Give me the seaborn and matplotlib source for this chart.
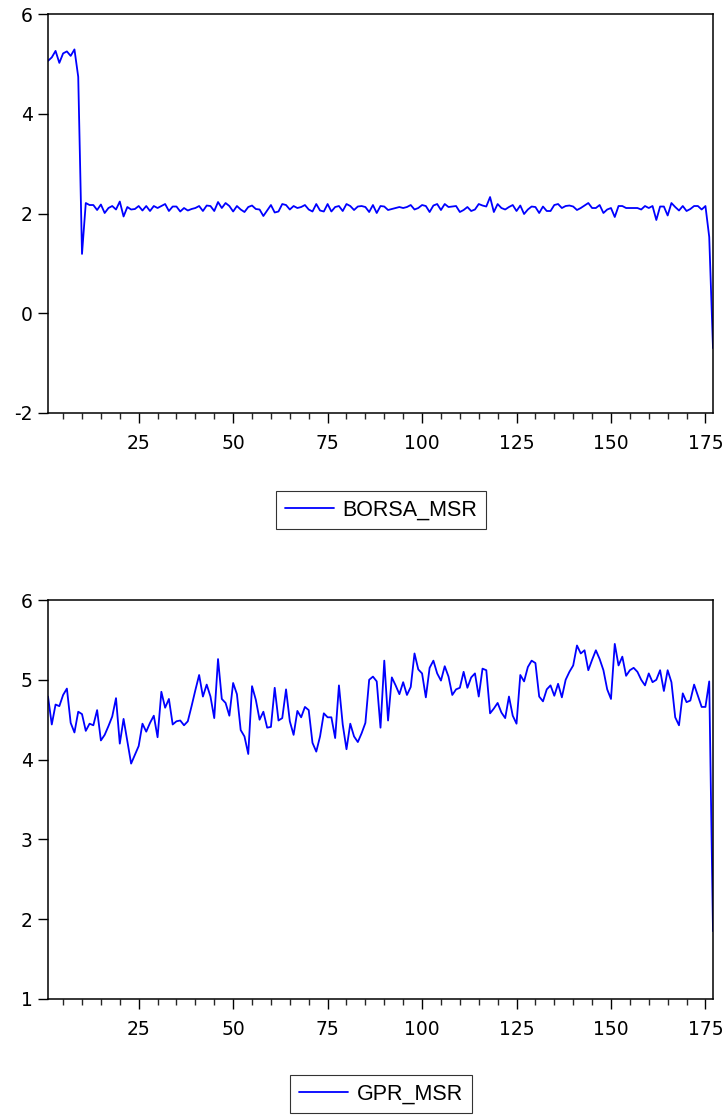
import numpy as np
import pandas as pd
import matplotlib
matplotlib.use("Agg")
import matplotlib.pyplot as plt
import seaborn as sns
from matplotlib.ticker import MultipleLocator

# values (obs 1..177)
borsa_msr = [
    5.06, 5.13, 5.26, 5.02, 5.21, 5.25, 5.16, 5.29, 4.74, 1.19,
    2.21, 2.17, 2.17, 2.07, 2.18, 2.01, 2.11, 2.15, 2.08, 2.24,
    1.94, 2.13, 2.08, 2.09, 2.15, 2.06, 2.15, 2.05, 2.15, 2.11,
    2.15, 2.19, 2.05, 2.14, 2.14, 2.04, 2.11, 2.06, 2.09, 2.11,
    2.15, 2.05, 2.16, 2.15, 2.05, 2.23, 2.11, 2.21, 2.15, 2.04,
    2.15, 2.08, 2.03, 2.13, 2.16, 2.09, 2.08, 1.95, 2.06, 2.17,
    2.02, 2.04, 2.19, 2.17, 2.08, 2.15, 2.11, 2.13, 2.17, 2.08,
    2.04, 2.19, 2.06, 2.04, 2.19, 2.04, 2.13, 2.15, 2.05, 2.19,
    2.15, 2.07, 2.14, 2.15, 2.13, 2.03, 2.17, 2.01, 2.15, 2.14,
    2.07, 2.09, 2.11, 2.13, 2.11, 2.13, 2.17, 2.08, 2.11, 2.17,
    2.15, 2.03, 2.16, 2.19, 2.07, 2.19, 2.13, 2.14, 2.15, 2.03,
    2.07, 2.13, 2.05, 2.08, 2.19, 2.16, 2.14, 2.33, 2.03, 2.19,
    2.11, 2.08, 2.13, 2.17, 2.05, 2.16, 1.99, 2.08, 2.14, 2.13,
    2.01, 2.14, 2.05, 2.05, 2.17, 2.19, 2.11, 2.15, 2.16, 2.14,
    2.07, 2.11, 2.16, 2.21, 2.11, 2.11, 2.17, 2.01, 2.08, 2.11,
    1.93, 2.15, 2.15, 2.11, 2.11, 2.11, 2.11, 2.08, 2.15, 2.11,
    2.15, 1.87, 2.14, 2.14, 1.96, 2.21, 2.13, 2.06, 2.15, 2.05,
    2.09, 2.15, 2.15, 2.08, 2.15, 1.53, -0.70,
]

gpr_msr = [
    4.79, 4.44, 4.69, 4.67, 4.81, 4.89, 4.46, 4.34, 4.60, 4.57,
    4.36, 4.45, 4.43, 4.62, 4.24, 4.31, 4.42, 4.54, 4.77, 4.20,
    4.51, 4.23, 3.95, 4.06, 4.17, 4.45, 4.35, 4.46, 4.55, 4.28,
    4.85, 4.65, 4.76, 4.44, 4.48, 4.49, 4.43, 4.48, 4.67, 4.87,
    5.06, 4.79, 4.94, 4.79, 4.52, 5.26, 4.76, 4.71, 4.55, 4.96,
    4.82, 4.37, 4.29, 4.07, 4.92, 4.75, 4.50, 4.60, 4.40, 4.41,
    4.90, 4.49, 4.52, 4.88, 4.48, 4.31, 4.61, 4.53, 4.66, 4.62,
    4.21, 4.10, 4.29, 4.58, 4.53, 4.53, 4.27, 4.93, 4.44, 4.13,
    4.45, 4.29, 4.22, 4.33, 4.46, 5.00, 5.04, 4.98, 4.40, 5.24,
    4.49, 5.03, 4.93, 4.82, 4.97, 4.81, 4.91, 5.33, 5.13, 5.08,
    4.78, 5.15, 5.24, 5.08, 4.99, 5.17, 5.04, 4.81, 4.88, 4.90,
    5.10, 4.90, 5.03, 5.08, 4.79, 5.14, 5.12, 4.58, 4.64, 4.71,
    4.59, 4.52, 4.79, 4.55, 4.45, 5.06, 4.98, 5.16, 5.24, 5.21,
    4.79, 4.73, 4.88, 4.93, 4.80, 4.95, 4.78, 5.00, 5.10, 5.18,
    5.43, 5.33, 5.37, 5.12, 5.25, 5.37, 5.26, 5.12, 4.88, 4.76,
    5.45, 5.18, 5.29, 5.05, 5.12, 5.15, 5.10, 5.00, 4.93, 5.08,
    4.97, 5.00, 5.12, 4.86, 5.12, 4.97, 4.53, 4.43, 4.83, 4.72,
    4.74, 4.94, 4.80, 4.66, 4.66, 4.98, 1.85,
]

obs = np.arange(1, len(borsa_msr) + 1)
df = pd.DataFrame({"obs": obs, "BORSA_MSR": borsa_msr, "GPR_MSR": gpr_msr})

sns.set_style("white")
plt.rcParams["font.family"] = ["Liberation Sans", "DejaVu Sans"]
plt.rcParams["axes.unicode_minus"] = False
plt.rcParams["text.color"] = "black"

fig = plt.figure(figsize=(7.24, 11.15), dpi=100)
W, H = 724, 1115


def add_panel(top_px, bottom_px, col, ylim, ystep, legend_y):
    ax = fig.add_axes([48 / W, 1 - bottom_px / H, (713 - 48) / W, (bottom_px - top_px) / H])
    sns.lineplot(data=df, x="obs", y=col, ax=ax, color="#0000ff", linewidth=1.3, label=col, legend=False)
    ax.set_xlim(1, 177)
    ax.set_ylim(*ylim)
    ax.yaxis.set_major_locator(MultipleLocator(ystep))
    ax.xaxis.set_major_locator(MultipleLocator(25))
    ax.xaxis.set_minor_locator(MultipleLocator(5))
    ax.set_xlabel("")
    ax.set_ylabel("")
    for s in ax.spines.values():
        s.set_color("black")
        s.set_linewidth(1.1)
    ax.tick_params(axis="both", which="major", direction="out", length=7, width=1,
                   labelsize=13.5, colors="black", left=True, bottom=True, pad=4)
    ax.tick_params(axis="x", which="minor", direction="out", length=4, width=1, bottom=True)
    ax.tick_params(axis="x", which="major", pad=8)
    for lab in ax.get_xticklabels() + ax.get_yticklabels():
        lab.set_family(["DejaVu Sans"])
    handles, labels = ax.get_legend_handles_labels()
    fig.legend(handles, labels, loc="center", bbox_to_anchor=(381 / W, 1 - legend_y / H),
               frameon=True, fancybox=False, edgecolor="black", fontsize=15.5,
               labelcolor="black", handlelength=2.3, borderpad=0.4,
               handletextpad=0.4, borderaxespad=0)
    return ax


ax1 = add_panel(14, 413, "BORSA_MSR", (-2, 6), 2, 510)
ax2 = add_panel(600, 999, "GPR_MSR", (1, 6), 1, 1094)

for leg in fig.legends:
    leg.get_frame().set_linewidth(0.8)

fig.savefig("out.png", dpi=100, facecolor="white")
